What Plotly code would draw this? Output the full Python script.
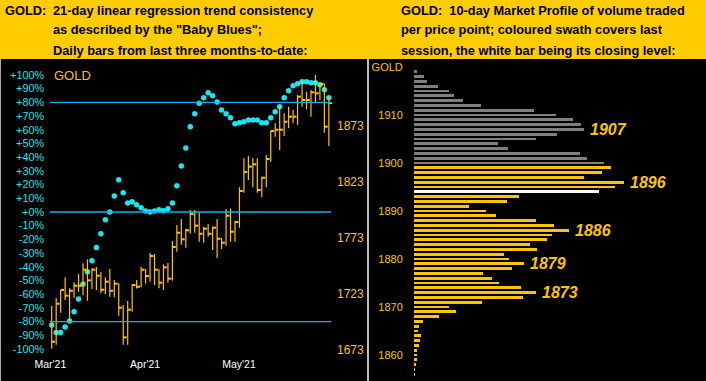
import plotly.graph_objects as go

W, H = 706, 381

# ---------------- Left panel data: daily HLC bars + "Baby Blues" ----------------
high = [1712.3, 1719.4, 1726.6, 1737.9, 1728.1, 1733.4, 1740.9, 1750.4, 1754.0, 1745.9,
        1747.1, 1742.6, 1737.9, 1745.3, 1735.5, 1732.6, 1713.2, 1716.7, 1731.7, 1735.5,
        1747.4, 1745.3, 1759.6, 1758.7, 1745.0, 1749.5, 1750.7, 1770.3, 1784.6, 1790.0,
        1781.3, 1798.0, 1798.0, 1795.9, 1783.1, 1785.5, 1783.1, 1790.0, 1773.0, 1798.9,
        1799.5, 1788.2, 1818.3, 1844.2, 1846.2, 1844.2, 1844.2, 1827.7, 1847.1, 1868.5,
        1875.4, 1890.2, 1884.3, 1890.2, 1887.3, 1900.7, 1912.6, 1903.6, 1905.1, 1918.5,
        1911.1, 1911.1, 1899.2]
low = [1674.2, 1677.7, 1706.3, 1717.6, 1698.3, 1719.7, 1725.0, 1722.1, 1717.0, 1727.5,
       1726.6, 1723.6, 1722.7, 1720.6, 1720.1, 1703.6, 1677.7, 1677.7, 1707.2, 1728.0,
       1729.0, 1732.2, 1734.0, 1731.0, 1728.1, 1726.6, 1733.1, 1734.9, 1760.8, 1767.0,
       1764.3, 1776.8, 1777.7, 1769.7, 1768.8, 1774.2, 1762.3, 1755.1, 1763.2, 1766.1,
       1769.7, 1769.7, 1782.2, 1813.4, 1824.8, 1818.3, 1813.4, 1809.3, 1818.3, 1841.1,
       1863.4, 1851.6, 1864.1, 1870.9, 1875.4, 1873.9, 1890.2, 1887.9, 1881.3, 1893.3,
       1896.2, 1867.0, 1855.1]
close = [1680.4, 1714.3, 1726.6, 1721.5, 1725.9, 1730.4, 1730.4, 1744.7, 1735.2, 1744.7,
         1739.3, 1726.8, 1734.0, 1725.9, 1732.2, 1710.8, 1684.3, 1709.0, 1731.0, 1729.5,
         1744.7, 1739.1, 1756.9, 1744.7, 1733.1, 1746.8, 1736.7, 1765.0, 1777.7, 1771.8,
         1779.9, 1794.4, 1784.0, 1776.8, 1781.3, 1776.8, 1782.2, 1772.4, 1768.8, 1792.9,
         1778.6, 1787.3, 1815.0, 1831.9, 1836.7, 1838.8, 1815.9, 1826.8, 1843.5, 1868.5,
         1869.7, 1869.7, 1876.8, 1881.3, 1881.3, 1899.2, 1896.2, 1896.2, 1903.1, 1902.2,
         1910.5, 1872.4, 1893.5]
baby_blues = [-82.5, -88.0, -88.0, -84.0, -79.5, -72.8, -63.5, -52.6, -43.6, -35.5,
              -26.0, -15.8, -5.6, 0.0, 11.7, 23.6, 14.1, 6.6, 7.5, 5.3,
              3.1, 0.7, 0.0, 0.7, 1.7, 0.9, 2.4, 6.6, 19.2, 33.6,
              46.7, 62.3, 71.8, 79.3, 83.4, 87.1, 84.9, 80.3, 74.5, 71.8,
              68.8, 64.5, 65.2, 65.9, 67.2, 67.2, 67.2, 65.2, 65.2, 68.8,
              73.2, 76.9, 83.4, 88.5, 92.2, 93.6, 95.1, 95.1, 94.4, 94.4,
              92.9, 89.3, 83.4]
month_tick_pos = [-0.3, 20.9, 41.9]
month_labels = ["Mar'21", "Apr'21", "May'21"]
pct_ticks = list(range(-100, 101, 10))
pct_labels = [f"{v:+d}%" for v in pct_ticks]
price_ticks = [1673, 1723, 1773, 1823, 1873]
trend_levels = [80, 0, -80]

# ---------------- Right panel data: 10-day market profile ----------------
profile_prices = list(range(1919, 1855, -1))
profile_volume = [3, 10, 13, 24, 35, 40, 49, 67, 120, 142,
                  159, 167, 170, 143, 122, 84, 94, 166, 173, 190,
                  197, 188, 170, 210, 201, 185, 105, 93, 55, 72,
                  82, 122, 140, 155, 138, 133, 116, 123, 90, 95,
                  110, 98, 69, 78, 85, 107, 122, 109, 68, 35,
                  42, 25, 9, 5, 4, 7, 6, 5, 3, 3,
                  3, 1.5, 1, 1]
swath_high, swath_low = 1899, 1856
closing_level = 1894
callout_prices = [1907, 1896, 1886, 1879, 1873]
profile_ticks = [1860, 1870, 1880, 1890, 1900, 1910, 1920]
profile_tick_text = ["1860", "1870", "1880", "1890", "1900", "1910", "GOLD"]

# ---------------- colours ----------------
GOLD = "#FFC400"
CYAN = "#19E6F2"
LINE_BLUE = "#12B0F0"
GREY = "#808080"
HEADER = "#FFCC00"

def px_x(p):
    return p / W

def px_y(p):
    return 1 - p / H

fig = go.Figure()

n = len(close)
idx = list(range(n))

vx, vy, tx, ty = [], [], [], []
for i in idx:
    vx += [i, i, None]
    vy += [low[i], high[i], None]
    tx += [i, i + 0.75, None]
    ty += [close[i], close[i], None]

fig.add_trace(go.Scatter(x=vx, y=vy, mode="lines", line=dict(color=GOLD, width=1.2),
                         xaxis="x", yaxis="y2", hoverinfo="skip", showlegend=False))
fig.add_trace(go.Scatter(x=tx, y=ty, mode="lines", line=dict(color=GOLD, width=2),
                         xaxis="x", yaxis="y2", hoverinfo="skip", showlegend=False))
fig.add_trace(go.Scatter(x=idx, y=baby_blues, mode="markers",
                         marker=dict(color=CYAN, size=5.5, symbol="circle", line=dict(width=0)),
                         xaxis="x", yaxis="y", showlegend=False))

bar_colors = []
for p in profile_prices:
    if p == closing_level:
        bar_colors.append("#FFFFFF")
    elif swath_low <= p <= swath_high:
        bar_colors.append(GOLD)
    else:
        bar_colors.append(GREY)

fig.add_trace(go.Bar(x=profile_volume, y=profile_prices, orientation="h",
                     marker=dict(color=bar_colors, line=dict(width=0)), width=0.6,
                     xaxis="x2", yaxis="y3", showlegend=False))

shapes = []
for lv in trend_levels:
    shapes.append(dict(type="line", xref="x", yref="y", x0=-0.38, x1=62.5, y0=lv, y1=lv,
                       line=dict(color=LINE_BLUE, width=1.4)))
# header band
shapes.append(dict(type="rect", xref="paper", yref="paper", x0=0, x1=1, y0=px_y(59), y1=1,
                   fillcolor=HEADER, line=dict(width=0), layer="below"))
# white divider of profile panel
shapes.append(dict(type="line", xref="paper", yref="paper", x0=px_x(368), x1=px_x(368),
                   y0=0, y1=px_y(59), line=dict(color="#FFFFFF", width=1.5)))
# thin grey frame on the left edge
shapes.append(dict(type="line", xref="paper", yref="paper", x0=px_x(0.5), x1=px_x(0.5),
                   y0=0, y1=px_y(59), line=dict(color="#A8A8A8", width=1)))

annotations = []
hdr_font = dict(family="Liberation Sans, Arial, sans-serif", size=12.8, color="#000000")
annotations.append(dict(text="<b>GOLD:</b>", x=px_x(3), y=px_y(10), xref="paper", yref="paper",
                        xanchor="left", yanchor="middle", showarrow=False, font=hdr_font))
left_lines = ["21-day linear regression trend consistency",
              "as described by the \"Baby Blues\";",
              "Daily bars from last three months-to-date:"]
right_lines = ["GOLD:  10-day Market Profile of volume traded",
               "per price point; coloured swath covers last",
               "session, the white bar being its closing level:"]
for k, t in enumerate(left_lines):
    annotations.append(dict(text=f"<b>{t}</b>", x=px_x(51), y=px_y(10 + 20 * k), xref="paper",
                            yref="paper", xanchor="left", yanchor="middle", showarrow=False,
                            font=hdr_font))
for k, t in enumerate(right_lines):
    annotations.append(dict(text=f"<b>{t}</b>", x=px_x(399), y=px_y(10 + 20 * k), xref="paper",
                            yref="paper", xanchor="left", yanchor="middle", showarrow=False,
                            font=hdr_font))
annotations.append(dict(text="GOLD", x=px_x(52), y=px_y(76), xref="paper", yref="paper",
                        xanchor="left", yanchor="middle", showarrow=False,
                        font=dict(family="Liberation Sans, Arial", size=13, color=GOLD)))
for p in callout_prices:
    v = profile_volume[profile_prices.index(p)]
    annotations.append(dict(text=f"<b><i>{p}</i></b>", x=v, y=p, xref="x2", yref="y3",
                            xanchor="left", yanchor="middle", xshift=4, showarrow=False,
                            font=dict(family="Liberation Sans, Arial", size=16, color=GOLD)))

lab_font = "Liberation Sans, Arial, sans-serif"
fig.update_layout(
    template="none",
    width=W, height=H, autosize=False,
    margin=dict(l=0, r=0, t=0, b=0, pad=0),
    paper_bgcolor="#000000", plot_bgcolor="#000000",
    showlegend=False,
    xaxis=dict(domain=[px_x(45), px_x(336)], range=[-1.5, 63.6], showgrid=False, zeroline=False,
               showline=False, tickmode="array", tickvals=month_tick_pos, ticktext=month_labels,
               ticks="", tickfont=dict(family=lab_font, size=10.5, color="#FFFFFF"),
               anchor="y", automargin=False),
    yaxis=dict(domain=[px_y(356), px_y(60)], range=[-105.11, 110.95], showgrid=False,
               zeroline=False, showline=False, tickmode="array", tickvals=pct_ticks,
               ticktext=pct_labels, ticks="", side="left", anchor="x", automargin=False,
               tickfont=dict(family=lab_font, size=10.8, color=CYAN)),
    yaxis2=dict(domain=[px_y(356), px_y(60)], range=[1667.64, 1931.93], showgrid=False,
                zeroline=False, showline=False, tickmode="array", tickvals=price_ticks,
                ticks="", side="right", overlaying="y", anchor="x", automargin=False,
                tickfont=dict(family=lab_font, size=12, color=GOLD)),
    xaxis2=dict(domain=[px_x(414), 1.0], range=[0, 292], showgrid=False, zeroline=False,
                showline=False, showticklabels=False, anchor="y3", automargin=False),
    yaxis3=dict(domain=[0.0, px_y(60)], range=[1854.58, 1921.46], showgrid=False,
                zeroline=False, showline=False, tickmode="array", tickvals=profile_ticks,
                ticktext=profile_tick_text, ticks="outside", ticklen=8, tickcolor="#000000",
                anchor="x2", side="left", automargin=False,
                tickfont=dict(family=lab_font, size=11, color=GOLD)),
    shapes=shapes,
    annotations=annotations,
    bargap=0,
)

fig.write_html("out.html", config={"displayModeBar": False, "staticPlot": True},
               post_script="document.body.style.margin='0';document.body.style.overflow='hidden';")
